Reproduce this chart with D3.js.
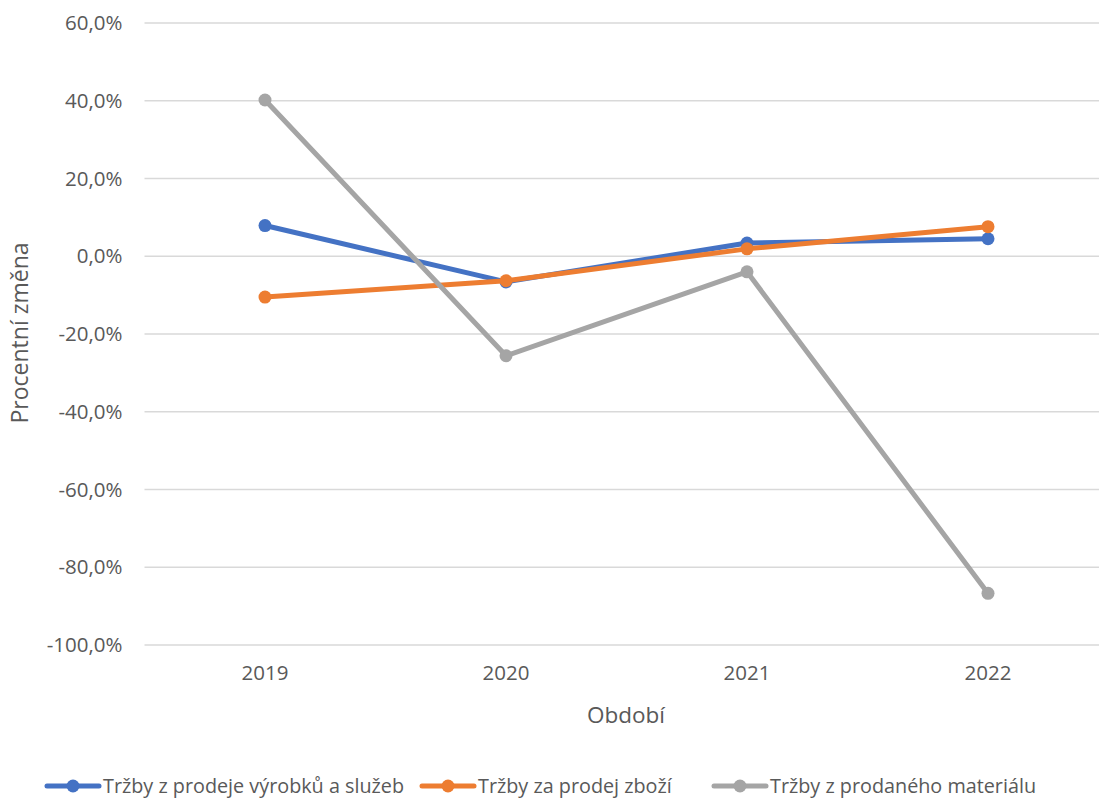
<!DOCTYPE html>
<html>
<head>
<meta charset="utf-8">
<script src="https://cdn.jsdelivr.net/npm/d3@7"></script>
<style>
  html, body { margin: 0; padding: 0; background: #fff; }
  svg { display: block; font-family: "Open Sans", "Noto Sans", sans-serif; }
</style>
</head>
<body>
<svg id="chart" width="1099" height="799"></svg>
<script>
// Period categories
const years = ["2019", "2020", "2021", "2022"];

// Year-on-year percentage change per revenue type
const seriesNames = [
  "Tržby z prodeje výrobků a služeb",
  "Tržby za prodej zboží",
  "Tržby z prodaného materiálu"
];
const productsServices = [7.9, -6.6, 3.4, 4.5];
const goods = [-10.5, -6.3, 1.9, 7.6];
const material = [40.2, -25.6, -4.0, -86.7];

const yTicks = [-100, -80, -60, -40, -20, 0, 20, 40, 60];
const colors = ["#4472C4", "#ED7D31", "#A5A5A5"];

const seriesData = [productsServices, goods, material];

const svg = d3.select("#chart");
const margin = { left: 144.5, right: -9.5, top: 23, bottom: 154 };
const W = 1099, H = 799;

const x = d3.scaleBand()
  .domain(years)
  .range([margin.left, W - margin.right])
  .paddingInner(0).paddingOuter(0);

const y = d3.scaleLinear()
  .domain([-100, 60])
  .range([H - margin.bottom, margin.top]);

const fmt = v => d3.format(".1f")(v).replace(".", ",").replace("−", "-") + "%";

// Horizontal gridlines
svg.append("g")
  .selectAll("line")
  .data(yTicks)
  .join("line")
  .attr("x1", margin.left)
  .attr("x2", W - margin.right)
  .attr("y1", d => y(d))
  .attr("y2", d => y(d))
  .attr("stroke", "#D9D9D9")
  .attr("stroke-width", 1.3);

// Y axis labels
const yAxis = d3.axisLeft(y).tickValues(yTicks).tickFormat(fmt).tickSize(0).tickPadding(22);
svg.append("g")
  .attr("transform", `translate(${margin.left},0)`)
  .call(yAxis)
  .call(g => g.select(".domain").remove())
  .call(g => g.selectAll("text")
    .attr("fill", "#595959")
    .style("font-size", "20.5px")
    .style("font-family", "'Open Sans', sans-serif"));

// X axis labels
const xAxis = d3.axisBottom(x).tickSize(0).tickPadding(20);
svg.append("g")
  .attr("transform", `translate(0,${y(-100)})`)
  .call(xAxis)
  .call(g => g.select(".domain").remove())
  .call(g => g.selectAll("text")
    .attr("fill", "#595959")
    .style("font-size", "20.5px")
    .style("font-family", "'Open Sans', sans-serif"));

// Axis titles
svg.append("text")
  .attr("x", 626)
  .attr("y", 723)
  .attr("text-anchor", "middle")
  .attr("fill", "#595959")
  .style("font-size", "22.5px")
  .text("Období");

svg.append("text")
  .attr("transform", "translate(28,333) rotate(-90)")
  .attr("text-anchor", "middle")
  .attr("fill", "#595959")
  .style("font-size", "23px")
  .text("Procentní změna");

// Series lines and markers
const cx = d => x(d) + x.bandwidth() / 2;
const line = d3.line()
  .x((d, i) => cx(years[i]))
  .y(d => y(d));

seriesData.forEach((vals, si) => {
  const g = svg.append("g");
  g.append("path")
    .datum(vals)
    .attr("d", line)
    .attr("fill", "none")
    .attr("stroke", colors[si])
    .attr("stroke-width", 5)
    .attr("stroke-linejoin", "round")
    .attr("stroke-linecap", "round");
  g.selectAll("circle")
    .data(vals)
    .join("circle")
    .attr("cx", (d, i) => cx(years[i]))
    .attr("cy", d => y(d))
    .attr("r", 6.5)
    .attr("fill", colors[si]);
});

// Legend
const legendX = [47, 422, 714];
const legendY = 786;
const legend = svg.append("g");
seriesNames.forEach((name, i) => {
  const g = legend.append("g").attr("transform", `translate(${legendX[i]},${legendY})`);
  g.append("line")
    .attr("x1", 0).attr("x2", 52)
    .attr("y1", 0).attr("y2", 0)
    .attr("stroke", colors[i])
    .attr("stroke-width", 5)
    .attr("stroke-linecap", "round");
  g.append("circle")
    .attr("cx", 26).attr("cy", 0).attr("r", 6.5)
    .attr("fill", colors[i]);
  g.append("text")
    .attr("x", 56).attr("y", 0)
    .attr("dy", "0.35em")
    .attr("fill", "#595959")
    .style("font-size", "19.8px")
    .text(name);
});
</script>
</body>
</html>
